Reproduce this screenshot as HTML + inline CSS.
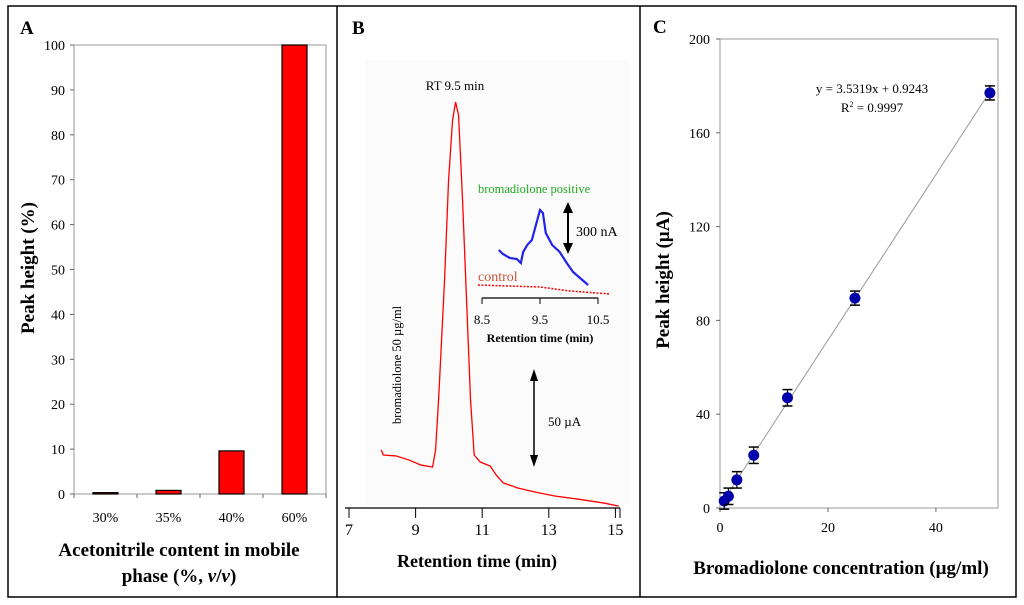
<!DOCTYPE html>
<html><head><meta charset="utf-8"><style>
html,body{margin:0;padding:0;background:#fff;}
svg{display:block;font-family:"Liberation Serif",serif;}
</style></head><body>
<svg id="c" width="1024" height="605" viewBox="0 0 1024 605" xmlns="http://www.w3.org/2000/svg"></svg>
<script>
// Panel A data
const catsA=["30%","35%","40%","60%"];
const valsA=[0.3,0.8,9.6,100];
const ticksA=[0,10,20,30,40,50,60,70,80,90,100];
// Panel B chromatogram data
const timeB=[7.97,8.03,8.41,8.80,9.16,9.51,9.60,9.69,9.87,9.99,10.11,10.20,10.29,10.41,10.53,10.65,10.76,10.94,11.24,11.42,11.63,12.07,12.58,13.18,13.86,14.66,15.1];
const sigB=[30.5,27.9,27.4,25.3,22.6,21.6,30.5,56.8,120,172.6,204,213.7,206.8,162,109.5,56.8,27.9,24.2,22.1,17.4,13.2,10.5,8.4,6.3,4.7,2.6,1.0];
const ticksB=[7,9,11,13,15];
// Inset data
const timeIn=[8.79,8.86,8.98,9.10,9.17,9.21,9.28,9.36,9.43,9.50,9.55,9.60,9.71,9.84,9.95,10.07,10.19,10.33];
const sigIn=[288,264,240,234,210,276,318,348,438,528,510,390,318,276,216,156,120,78];
const timeCtl=[8.43,9.5,10.02,10.71];
const sigCtl=[78,66,42,24];
const ticksIn=[8.5,9.5,10.5];
// Panel C data
const concC=[0.78,1.56,3.125,6.25,12.5,25,50];
const peakC=[3,5,12,22.5,47,89.5,177];
const errC=[3.5,3.5,3.5,3.5,3.5,3,3];
const ticksCx=[0,20,40];
const ticksCy=[0,40,80,120,160,200];
const fitSlope=3.5319, fitIcpt=0.9243;

const NS="http://www.w3.org/2000/svg";
const svg=document.getElementById('c');
function mk(tag,attrs,parent,text){const e=document.createElementNS(NS,tag);for(const k in attrs)e.setAttribute(k,attrs[k]);if(text!==undefined)e.textContent=text;(parent||svg).appendChild(e);return e;}

// frame
let e=mk('rect',{x:8,y:6,width:1008,height:591,fill:'none',stroke:'#000','stroke-width':1.5});

e=mk('line',{x1:337,y1:6,x2:337,y2:597,stroke:'#000','stroke-width':1.5});

e=mk('line',{x1:640,y1:6,x2:640,y2:597,stroke:'#000','stroke-width':1.5});


// ---------- Panel A ----------
const gA=mk('g',{});
e=mk('text',{x:20,y:34,'font-size':19,'font-weight':'bold'},gA,'A');
const ax0=74,ax1=326,ay0=494,ay1=45;
const yA=v=>ay0-(v/100)*(ay0-ay1);
const bw=(ax1-ax0)/catsA.length;
e=mk('rect',{x:ax0,y:ay1,width:ax1-ax0,height:ay0-ay1,fill:'#fff',stroke:'#999','stroke-width':1},gA);

ticksA.forEach(t=>{const y=yA(t);
 mk('line',{x1:ax0-4,y1:y,x2:ax0,y2:y,stroke:'#666'},gA);
 e=mk('text',{x:ax0-9,y:y+5,'font-size':14,'text-anchor':'end'},gA,t);});
for(let i=0;i<=catsA.length;i++){mk('line',{x1:ax0+i*bw,y1:ay0,x2:ax0+i*bw,y2:ay0+4,stroke:'#666'},gA);}
catsA.forEach((c,i)=>{const cx=ax0+(i+0.5)*bw;const y=yA(valsA[i]);
 e=mk('rect',{x:cx-12.5,y:y,width:25,height:ay0-y,fill:'#ff0000',stroke:'#000','stroke-width':1.2},gA);
 
 e=mk('text',{x:cx,y:ay0+28,'font-size':14,'text-anchor':'middle'},gA,c);});
e=mk('text',{x:0,y:0,'font-size':19,'font-weight':'bold','text-anchor':'middle',transform:'translate(34,268) rotate(-90)'},gA,'Peak height (%)');

e=mk('text',{x:179,y:556,'font-size':19,'font-weight':'bold','text-anchor':'middle'},gA,'Acetonitrile content in mobile');

e=mk('text',{x:179,y:582,'font-size':19,'font-weight':'bold','text-anchor':'middle'},gA);

e.innerHTML='phase (%, <tspan font-style="italic">v</tspan>/<tspan font-style="italic">v</tspan>)';

// ---------- Panel B ----------
const gB=mk('g',{});
mk('rect',{x:365,y:60,width:265,height:445,fill:'#fbfbfb'},gB);
e=mk('text',{x:352,y:34,'font-size':19,'font-weight':'bold'},gB,'B');
const bx=t=>349+(t-7)*33.3, by=s=>508-s*1.9;
e=mk('line',{x1:345,y1:508,x2:620,y2:508,stroke:'#000','stroke-width':1.2},gB);
ticksB.forEach(t=>{mk('line',{x1:bx(t),y1:508,x2:bx(t),y2:518,stroke:'#000'},gB);
 e=mk('text',{x:bx(t),y:535,'font-size':16,'text-anchor':'middle'},gB,t);});
mk('line',{x1:620,y1:508,x2:620,y2:518,stroke:'#000'},gB);
e=mk('polyline',{points:timeB.map((t,i)=>bx(t)+','+by(sigB[i])).join(' '),fill:'none',stroke:'#ff0000','stroke-width':1.3},gB);

e=mk('text',{x:455,y:90,'font-size':13,'text-anchor':'middle'},gB,'RT 9.5 min');
e=mk('text',{x:0,y:0,'font-size':12.5,'text-anchor':'middle',transform:'translate(401,365) rotate(-90)'},gB,'bromadiolone 50 µg/ml');

mk('line',{x1:534,y1:378,x2:534,y2:460,stroke:'#000','stroke-width':1.5},gB);
mk('polygon',{points:'534,369 530,381 538,381',fill:'#000'},gB);
mk('polygon',{points:'534,467 530,455 538,455',fill:'#000'},gB);
e=mk('text',{x:548,y:426,'font-size':13},gB,'50 µA');
e=mk('text',{x:477,y:567,'font-size':18,'font-weight':'bold','text-anchor':'middle'},gB,'Retention time (min)');

const ix=t=>482+(t-8.5)*58, iy=s=>298-s/6;
e=mk('line',{x1:482,y1:298,x2:598,y2:298,stroke:'#000','stroke-width':1.2},gB);
ticksIn.forEach(t=>{mk('line',{x1:ix(t),y1:298,x2:ix(t),y2:304,stroke:'#000'},gB);
 e=mk('text',{x:ix(t),y:324,'font-size':13,'text-anchor':'middle'},gB,t);});
e=mk('text',{x:540,y:342,'font-size':12,'font-weight':'bold','text-anchor':'middle'},gB,'Retention time (min)');
e=mk('polyline',{points:timeIn.map((t,i)=>ix(t)+','+iy(sigIn[i])).join(' '),fill:'none',stroke:'#2222ee','stroke-width':2.2},gB);

e=mk('polyline',{points:timeCtl.map((t,i)=>ix(t)+','+iy(sigCtl[i])).join(' '),fill:'none',stroke:'#ff0000','stroke-width':1.5,'stroke-dasharray':'2,1.5'},gB);

e=mk('text',{x:478,y:193,'font-size':12.5,fill:'#22aa22'},gB,'bromadiolone positive');
e=mk('text',{x:478,y:281,'font-size':14,fill:'#c8553a'},gB,'control');
mk('line',{x1:568,y1:210,x2:568,y2:246,stroke:'#000','stroke-width':2},gB);
mk('polygon',{points:'568,202 563,213 573,213',fill:'#000'},gB);
mk('polygon',{points:'568,254 563,243 573,243',fill:'#000'},gB);
e=mk('text',{x:576,y:236,'font-size':14},gB,'300 nA');

// ---------- Panel C ----------
const gC=mk('g',{});
e=mk('text',{x:653,y:33,'font-size':19,'font-weight':'bold'},gC,'C');
const cx0=720,cx1=998,cy0=508,cy1=39;
const cX=v=>cx0+v*(cx1-cx0)/51.5, cY=v=>cy0-v*(cy0-cy1)/200;
e=mk('rect',{x:cx0,y:cy1,width:cx1-cx0,height:cy0-cy1,fill:'#fff',stroke:'#999'},gC);
ticksCy.forEach(t=>{mk('line',{x1:cx0-4,y1:cY(t),x2:cx0,y2:cY(t),stroke:'#666'},gC);
 e=mk('text',{x:cx0-10,y:cY(t)+5,'font-size':14,'text-anchor':'end'},gC,t);});
ticksCx.forEach(t=>{mk('line',{x1:cX(t),y1:cy0,x2:cX(t),y2:cy0+4,stroke:'#666'},gC);
 e=mk('text',{x:cX(t),y:cy0+24,'font-size':14,'text-anchor':'middle'},gC,t);});
const xmin=concC[0],xmax=concC[concC.length-1];
e=mk('line',{x1:cX(xmin),y1:cY(fitSlope*xmin+fitIcpt),x2:cX(xmax),y2:cY(fitSlope*xmax+fitIcpt),stroke:'#999','stroke-width':1},gC);

concC.forEach((c,i)=>{const x=cX(c),y=cY(peakC[i]),e1=cY(peakC[i]+errC[i]),e2=cY(peakC[i]-errC[i]);
 mk('line',{x1:x,y1:e1,x2:x,y2:e2,stroke:'#000','stroke-width':1.2},gC);
 mk('line',{x1:x-5,y1:e1,x2:x+5,y2:e1,stroke:'#000','stroke-width':1.5},gC);
 mk('line',{x1:x-5,y1:e2,x2:x+5,y2:e2,stroke:'#000','stroke-width':1.5},gC);
 const p=mk('circle',{cx:x,cy:y,r:5.5,fill:'#0000aa'},gC);
 });
e=mk('text',{x:872,y:93,'font-size':13,'text-anchor':'middle'},gC,'y = 3.5319x + 0.9243');
e=mk('text',{x:872,y:112,'font-size':13,'text-anchor':'middle'},gC);
e.innerHTML='R<tspan font-size="8" dy="-5">2</tspan><tspan dy="5"> = 0.9997</tspan>';
e=mk('text',{x:0,y:0,'font-size':19,'font-weight':'bold','text-anchor':'middle',transform:'translate(669,280) rotate(-90)'},gC,'Peak height (µA)');

e=mk('text',{x:841,y:574,'font-size':19,'font-weight':'bold','text-anchor':'middle'},gC,'Bromadiolone concentration (µg/ml)');

</script>
</body></html>
